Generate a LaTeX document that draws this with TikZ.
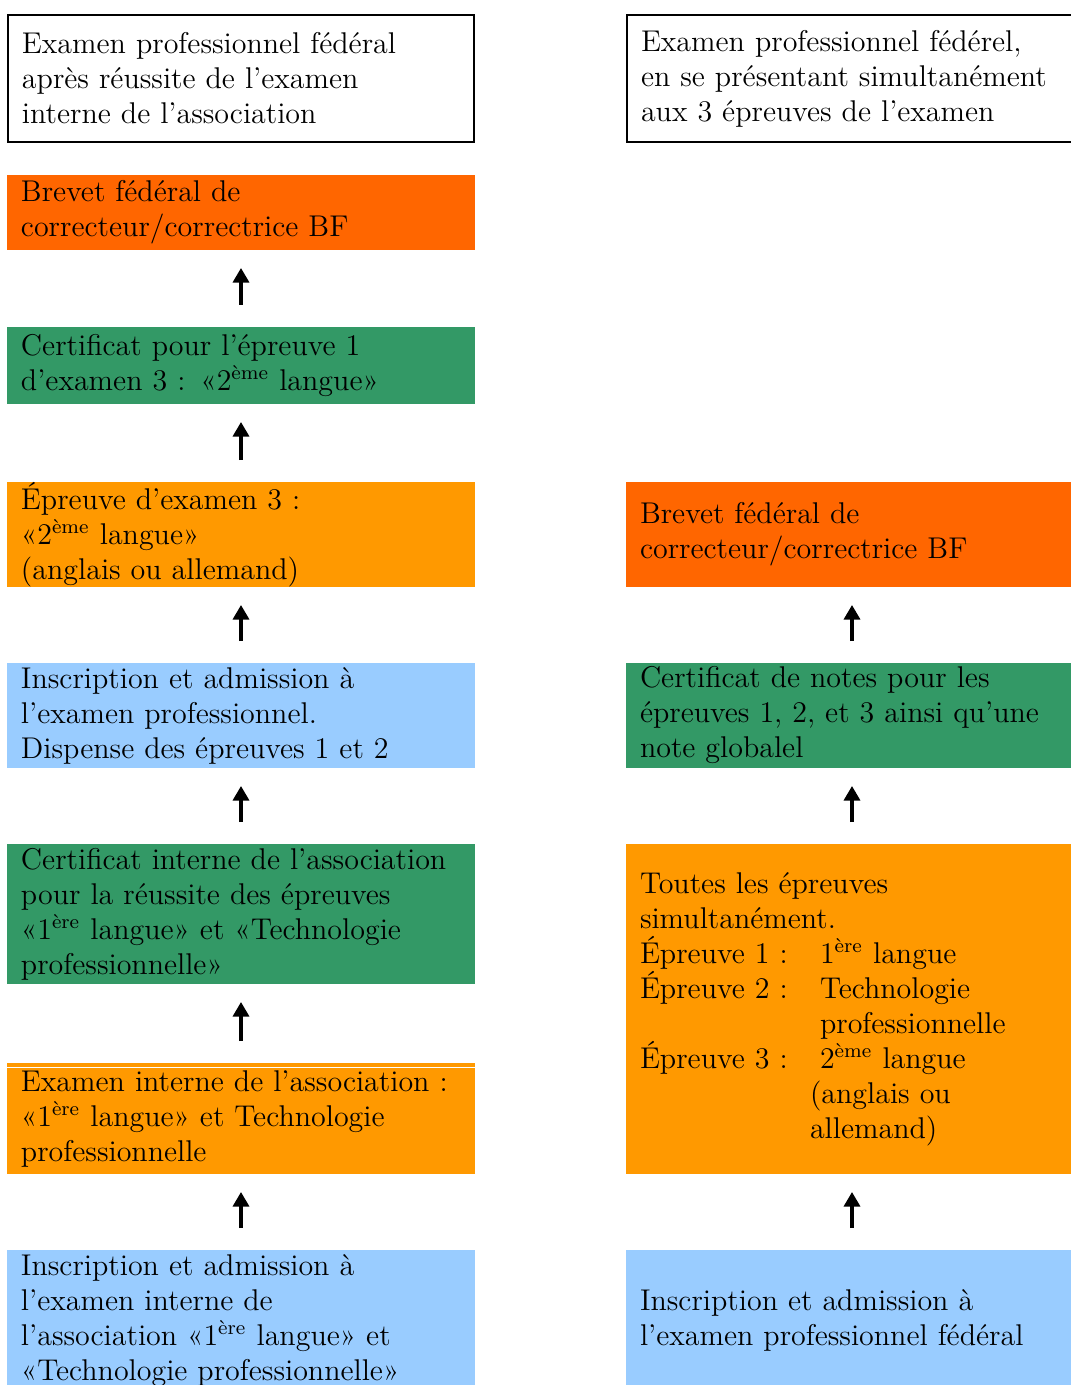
\documentclass[tikz,border=0pt]{standalone}
\usepackage{fontspec}
\usetikzlibrary{positioning,arrows.meta}
\definecolor{brevetcol}{HTML}{FF6600}
\definecolor{certcol}{HTML}{339966}
\definecolor{examcol}{HTML}{FF9900}
\definecolor{inscrcol}{HTML}{99CCFF}
\def\sup#1{\textsuperscript{#1}}

\begin{document}
\begin{tikzpicture}[x=0.4pt, y=-0.4pt,
                      every node/.style = {shape=rectangle, align=left,
                        inner xsep=5.6pt, inner ysep=0pt, outer sep=0pt,
                        font=\fontsize{12pt}{14pt}\selectfont},
                      leftbox/.style = {text width=176pt},
                      rightbox/.style = {text width=169.6pt},
                      titlebox/.style = {draw, line width=1pt, minimum height=50.8pt},
                      up/.style = {-{Triangle[width=6.4pt,length=5.8pt]},
                        line width=1.3pt, shorten <=8.8pt, shorten >=7.2pt}]
  \useasboundingbox (0,0) rectangle (1071,1385);
  % left column
  \node[titlebox, text width=175.2pt] (ltitle) at (241,78.5)
    {Examen professionnel fédéral\\après réussite de l’examen\\interne de l’association};
  \node[leftbox, fill=brevetcol, minimum height=30pt] (lbrevet) at (241,212.5)
    {Brevet fédéral de\\correcteur/correctrice BF};
  \node[leftbox, fill=certcol, minimum height=30.8pt] (lcert) at (241,365.5)
    {Certificat pour l’épreuve 1\\d’examen 3 : «2\sup{ème} langue»};
  \node[leftbox, fill=examcol, minimum height=42pt] (lepreuve) at (241,534.5)
    {Épreuve d’examen 3 :\\«2\sup{ème} langue»\\(anglais ou allemand)};
  \node[leftbox, fill=inscrcol, minimum height=42pt] (linscr) at (241,715.5)
    {Inscription et admission à\\l’examen professionnel.\\Dispense des épreuves 1 et 2};
  \node[leftbox, fill=certcol, minimum height=56pt] (lcertint) at (241,914)
    {Certificat interne de l’association\\pour la réussite des épreuves\\«1\sup{ère} langue» et «Technologie\\professionnelle»};
  \node[leftbox, fill=examcol, minimum height=44.4pt] (lexint) at (241,1118.5)
    {Examen interne de l’association :\\«1\sup{ère} langue» et Technologie\\professionnelle};
  \node[leftbox, fill=inscrcol, minimum height=56.4pt] (linscrint) at (241,1320.5)
    {Inscription et admission à\\l’examen interne de\\l’association «1\sup{ère} langue» et\\«Technologie professionnelle»};
  \draw[white, line width=0.4pt] ([yshift=-1.8pt]lexint.north west) -- ([yshift=-1.8pt]lexint.north east);

  % right column
  \node[titlebox, text width=169.2pt] (rtitle) at (852.5,78.5)
    {Examen professionnel fédérel,\\en se présentant simultanément\\aux 3 épreuves de l’examen};
  \node[rightbox, fill=brevetcol, minimum height=42pt] (rbrevet) at (852,534.5)
    {Brevet fédéral de\\correcteur/correctrice BF};
  \node[rightbox, fill=certcol, minimum height=42pt] (rcert) at (852,715.5)
    {Certificat de notes pour les\\épreuves 1, 2, et 3 ainsi qu’une\\note globalel};
  \node[rightbox, fill=examcol, minimum height=132pt] (rtoutes) at (852,1009)
    {Toutes les épreuves\\simultanément.\\
     \makebox[72pt][l]{Épreuve 1 :}1\sup{ère} langue\\
     \makebox[72pt][l]{Épreuve 2 :}Technologie\\
     \hspace*{72pt}professionnelle\\
     \makebox[72pt][l]{Épreuve 3 :}2\sup{ème} langue\\
     \hspace*{68pt}(anglais ou\\
     \hspace*{68pt}allemand)};
  \node[rightbox, fill=inscrcol, minimum height=56.4pt] (rinscr) at (852,1320.5)
    {Inscription et admission à\\l’examen professionnel fédéral};

  % arrows
  \draw[up] (lcert) -- (lbrevet);
  \draw[up] (lepreuve) -- (lcert);
  \draw[up] (linscr) -- (lepreuve);
  \draw[up] (lcertint) -- (linscr);
  \draw[up] (lexint) -- (lcertint);
  \draw[up] (linscrint) -- (lexint);
  \draw[up] (rcert) -- (rbrevet);
  \draw[up] (rtoutes) -- (rcert);
  \draw[up] (rinscr) -- (rtoutes);
\end{tikzpicture}
\end{document}
